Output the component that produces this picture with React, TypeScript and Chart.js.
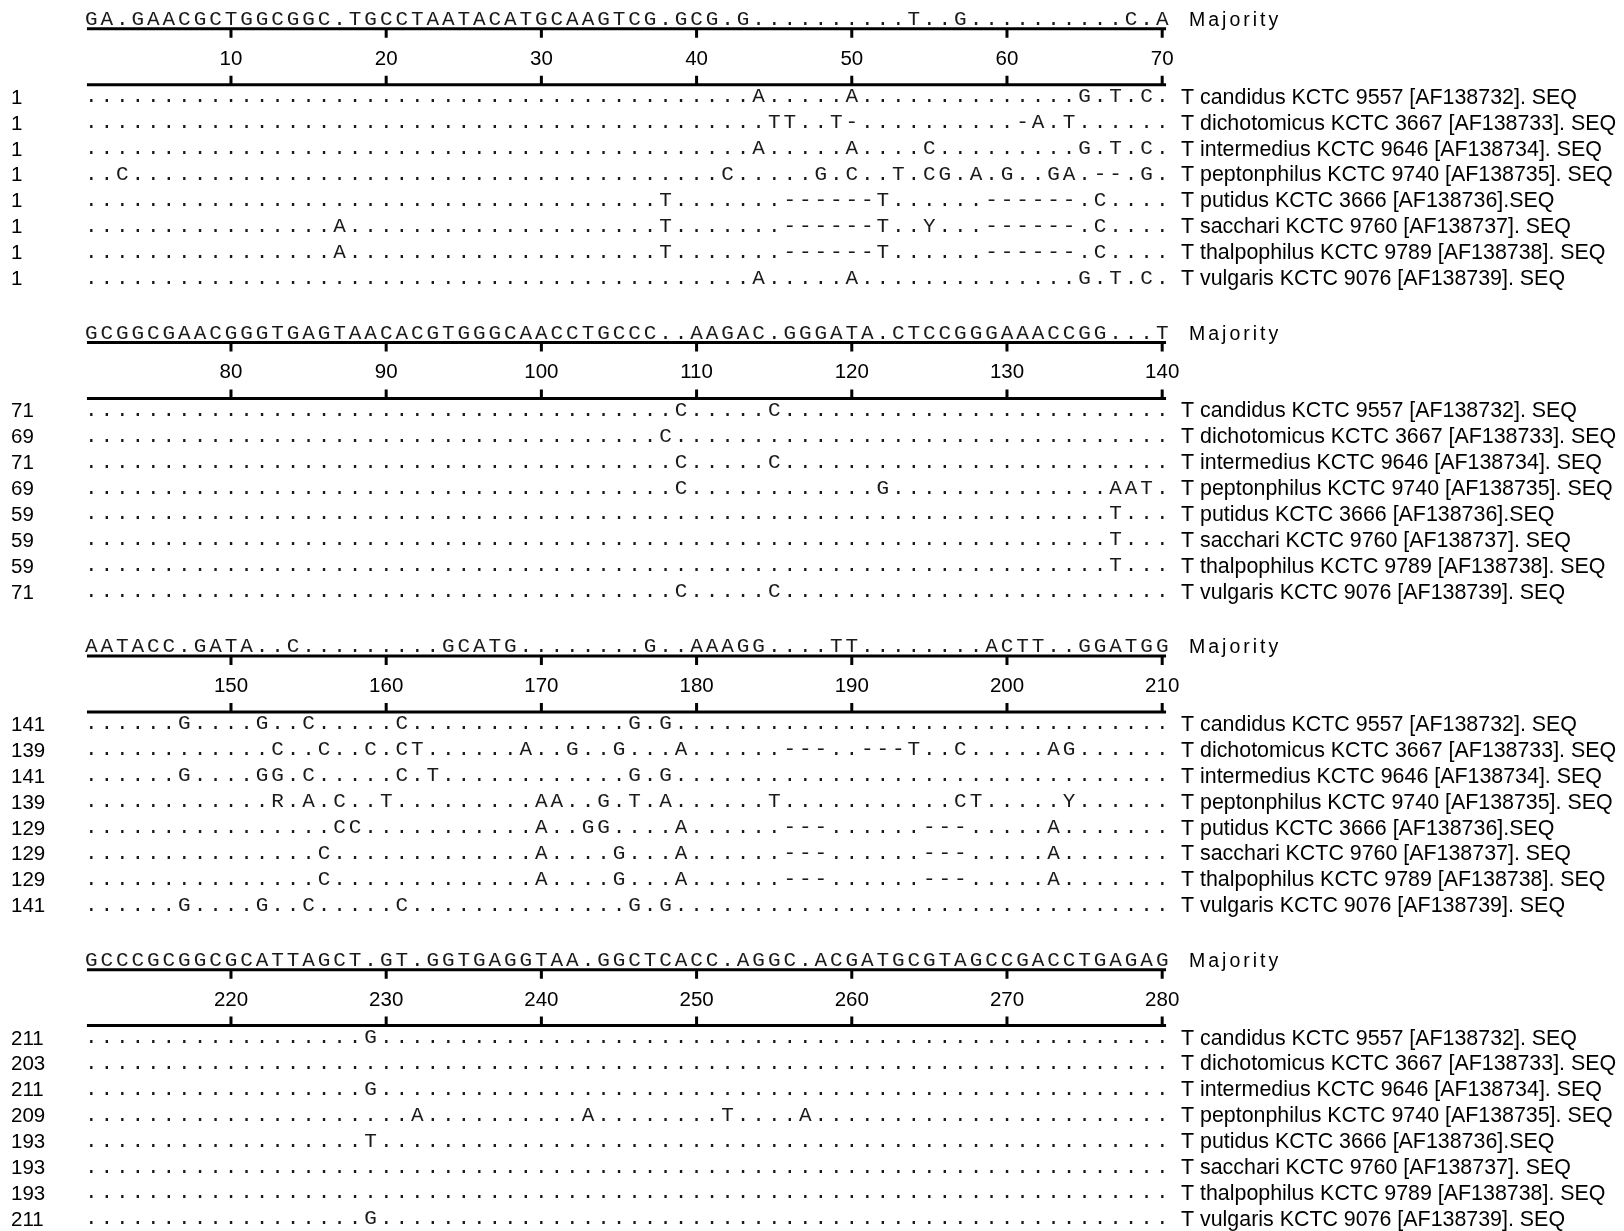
import { useEffect, useRef } from 'react';
import { Chart, registerables } from 'chart.js';

Chart.register(...registerables);

// ---------------- data ----------------
const D = '..........';

const taxa = [
  'T candidus KCTC 9557 [AF138732]. SEQ',
  'T dichotomicus KCTC 3667 [AF138733]. SEQ',
  'T intermedius KCTC 9646 [AF138734]. SEQ',
  'T peptonphilus KCTC 9740 [AF138735]. SEQ',
  'T putidus KCTC 3666 [AF138736].SEQ',
  'T sacchari KCTC 9760 [AF138737]. SEQ',
  'T thalpophilus KCTC 9789 [AF138738]. SEQ',
  'T vulgaris KCTC 9076 [AF138739]. SEQ',
];

const rulerTicks = [10, 20, 30, 40, 50, 60, 70];
const blockOffsets = [0, 70, 140, 210];

const majority = [
  'GA.GAACGCT' + 'GGCGGC.TGC' + 'CTAATACATG' + 'CAAGTCG.GC' + 'G.G.......' + '...T..G...' + '.......C.A',
  'GCGGCGAACG' + 'GGTGAGTAAC' + 'ACGTGGGCAA' + 'CCTGCCC..A' + 'AGAC.GGGAT' + 'A.CTCCGGGA' + 'AACCGG...T',
  'AATACC.GAT' + 'A..C......' + '...GCATG..' + '......G..A' + 'AAGG....TT' + '........AC' + 'TT..GGATGG',
  'GCCCGCGGCG' + 'CATTAGCT.G' + 'T.GGTGAGGT' + 'AA.GGCTCAC' + 'C.AGGC.ACG' + 'ATGCGTAGCC' + 'GACCTGAGAG',
];

const startNumbers = [
  [1, 1, 1, 1, 1, 1, 1, 1],
  [71, 69, 71, 69, 59, 59, 59, 71],
  [141, 139, 141, 139, 129, 129, 129, 141],
  [211, 203, 211, 209, 193, 193, 193, 211],
];

const block1 = [
  D + D + D + D + '...A.....A' + D + '....G.T.C.',
  D + D + D + D + '....TT..T-' + D + '-A.T......',
  D + D + D + D + '...A.....A' + '....C.....' + '....G.T.C.',
  '..C.......' + D + D + D + '.C.....G.C' + '..T.CG.A.G' + '..GA.--.G.',
  D + D + D + '.......T..' + '.....-----' + '-T......--' + '----.C....',
  D + '......A...' + D + '.......T..' + '.....-----' + '-T..Y...--' + '----.C....',
  D + '......A...' + D + '.......T..' + '.....-----' + '-T......--' + '----.C....',
  D + D + D + D + '...A.....A' + D + '....G.T.C.',
];

const block2 = [
  D + D + D + '........C.' + '....C.....' + D + D,
  D + D + D + '.......C..' + D + D + D,
  D + D + D + '........C.' + '....C.....' + D + D,
  D + D + D + '........C.' + D + '.G........' + '......AAT.',
  D + D + D + D + D + D + '......T...',
  D + D + D + D + D + D + '......T...',
  D + D + D + D + D + D + '......T...',
  D + D + D + '........C.' + '....C.....' + D + D,
];

const block3 = [
  '......G...' + '.G..C.....' + 'C.........' + '.....G.G..' + D + D + D,
  D + '..C..C..C.' + 'CT......A.' + '.G..G...A.' + '.....---..' + '---T..C...' + '..AG......',
  '......G...' + '.GG.C.....' + 'C.T.......' + '.....G.G..' + D + D + D,
  D + '..R.A.C..T' + '.........A' + 'A..G.T.A..' + '....T.....' + '......CT..' + '...Y......',
  D + '......CC..' + '.........A' + '..GG....A.' + '.....---..' + '....---...' + '..A.......',
  D + '.....C....' + '.........A' + '....G...A.' + '.....---..' + '....---...' + '..A.......',
  D + '.....C....' + '.........A' + '....G...A.' + '.....---..' + '....---...' + '..A.......',
  '......G...' + '.G..C.....' + 'C.........' + '.....G.G..' + D + D + D,
];

const block4 = [
  D + '........G.' + D + D + D + D + D,
  D + D + D + D + D + D + D,
  D + '........G.' + D + D + D + D + D,
  D + D + '.A........' + '..A.......' + '.T....A...' + D + D,
  D + '........T.' + D + D + D + D + D,
  D + D + D + D + D + D + D,
  D + D + D + D + D + D + D,
  D + '........G.' + D + D + D + D + D,
];

const blocks = [block1, block2, block3, block4];

// ---------------- layout ----------------
const W = 1624;
const H = 1231;
const ROW_PX = 25.9;
const COL_PX = 15.52;
const COL1_PX = 91.3;
const X_MIN = 1 - COL1_PX / COL_PX;
const X_MAX = X_MIN + W / COL_PX;
const Y_MAX = H / ROW_PX;
const FIRST_ROW = 96.2 / ROW_PX;
const BLOCK_STEP = 313.6 / ROW_PX;
const MAJ_OFF = -2.97;
const TOP_LINE_OFF = -2.6;
const TICK_LABEL_OFF = -1.5;
const BOTTOM_LINE_OFF = -0.44;
const RULER_X0 = 0.72;
const RULER_X1 = 70.25;
const LEFT_NUM_X = 1 + (11 - COL1_PX) / COL_PX;
const LABEL_X = 1 + (1181 - COL1_PX) / COL_PX;
const MAJ_LABEL_X = 1 + (1189 - COL1_PX) / COL_PX;

const rowY = (b: number, r: number) => FIRST_ROW + b * BLOCK_STEP + r;

const SEQ_FONT = '21px "Liberation Mono", "Courier New", monospace';
const SANS = '"Liberation Sans", Arial, sans-serif';

type Pt = { x: number; y: number; t: string };

export default function App() {
  const ref = useRef<HTMLCanvasElement>(null);

  useEffect(() => {
    document.body.style.margin = '0';
    const canvas = ref.current!;
    const majPts: Pt[] = [];
    const seqPts: Pt[] = [];
    majority.forEach((s, b) => {
      for (let i = 0; i < s.length; i++) majPts.push({ x: i + 1, y: rowY(b, MAJ_OFF), t: s[i] });
    });
    blocks.forEach((rows, b) => {
      rows.forEach((s, r) => {
        for (let i = 0; i < s.length; i++) seqPts.push({ x: i + 1, y: rowY(b, r), t: s[i] });
      });
    });

    const alignPlugin = {
      id: 'alignmentText',
      afterDatasetsDraw(chart: any) {
        const ctx = chart.ctx as CanvasRenderingContext2D;
        const xs = chart.scales.x;
        const ys = chart.scales.y;
        ctx.save();
        ctx.fillStyle = '#000';
        ctx.strokeStyle = '#000';

        // sequence characters (from dataset element positions)
        ctx.font = SEQ_FONT;
        ctx.textAlign = 'center';
        ctx.textBaseline = 'alphabetic';
        ctx.fillStyle = '#1a1a1a';
        [majPts, seqPts].forEach((pts, di) => {
          const meta = chart.getDatasetMeta(di);
          meta.data.forEach((el: any, j: number) => {
            ctx.fillText(pts[j].t, el.x, el.y + 6);
          });
        });
        ctx.fillStyle = '#000';

        blocks.forEach((rows, b) => {
          const x0 = xs.getPixelForValue(RULER_X0);
          const x1 = xs.getPixelForValue(RULER_X1);
          const yTop = ys.getPixelForValue(rowY(b, TOP_LINE_OFF));
          const yBot = ys.getPixelForValue(rowY(b, BOTTOM_LINE_OFF));
          ctx.lineWidth = 3;
          ctx.beginPath();
          ctx.moveTo(x0, yTop);
          ctx.lineTo(x1, yTop);
          ctx.moveTo(x0, yBot);
          ctx.lineTo(x1, yBot);
          rulerTicks.forEach((t) => {
            const tx = xs.getPixelForValue(t);
            ctx.moveTo(tx, yTop);
            ctx.lineTo(tx, yTop + 9);
            ctx.moveTo(tx, yBot - 9);
            ctx.lineTo(tx, yBot);
          });
          ctx.stroke();

          // tick labels
          ctx.font = '20.5px ' + SANS;
          ctx.textAlign = 'center';
          const yl = ys.getPixelForValue(rowY(b, TICK_LABEL_OFF));
          rulerTicks.forEach((t) => {
            ctx.fillText(String(t + blockOffsets[b]), xs.getPixelForValue(t), yl + 7.4);
          });

          // Majority label
          ctx.font = '19.5px ' + SANS;
          ctx.textAlign = 'left';
          (ctx as any).letterSpacing = '3px';
          ctx.fillText('Majority', xs.getPixelForValue(MAJ_LABEL_X), ys.getPixelForValue(rowY(b, MAJ_OFF)) + 7);
          (ctx as any).letterSpacing = '0px';

          // row numbers and taxa
          rows.forEach((_, r) => {
            const y = ys.getPixelForValue(rowY(b, r)) + 7.5;
            ctx.textAlign = 'left';
            ctx.font = '20.5px ' + SANS;
            ctx.fillText(String(startNumbers[b][r]), xs.getPixelForValue(LEFT_NUM_X), y);
            ctx.font = '21.4px ' + SANS;
            ctx.fillText(taxa[r], xs.getPixelForValue(LABEL_X), y);
          });
        });
        ctx.restore();
      },
    };

    const chart = new Chart(canvas, {
      type: 'scatter',
      data: {
        datasets: [
          { label: 'Majority', data: majPts as any, pointRadius: 0, showLine: false },
          { label: 'Sequences', data: seqPts as any, pointRadius: 0, showLine: false },
        ],
      },
      options: {
        animation: false,
        responsive: false,
        devicePixelRatio: 1,
        events: [],
        layout: { padding: 0 },
        plugins: { legend: { display: false }, tooltip: { enabled: false }, title: { display: false } },
        scales: {
          x: { type: 'linear', min: X_MIN, max: X_MAX, display: false },
          y: { type: 'linear', min: 0, max: Y_MAX, reverse: true, display: false },
        },
      },
      plugins: [alignPlugin],
    });
    return () => chart.destroy();
  }, []);

  return <canvas ref={ref} width={W} height={H} style={{ display: 'block', background: '#fff' }} />;
}
